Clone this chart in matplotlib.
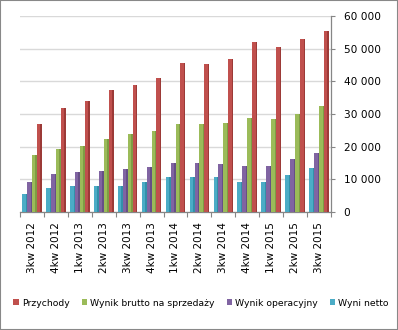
import numpy as np
import matplotlib
matplotlib.use('Agg')
import matplotlib.pyplot as plt
from matplotlib.ticker import FuncFormatter, FixedLocator

kwartaly = ['3kw 2012', '4kw 2012', '1kw 2013', '2kw 2013', '3kw 2013', '4kw 2013',
            '1kw 2014', '2kw 2014', '3kw 2014', '4kw 2014', '1kw 2015', '2kw 2015', '3kw 2015']

przychody = [26800, 31800, 34000, 37200, 38800, 40900, 45600, 45400, 46800, 52100, 50500, 53100, 55400]
wynik_brutto = [17600, 19400, 20200, 22300, 23800, 24800, 27000, 26800, 27100, 28700, 28600, 29900, 32600]
wynik_oper = [9300, 11600, 12300, 12400, 13200, 13700, 15000, 15000, 14600, 14200, 14200, 16100, 18100]
wynik_netto = [5400, 7400, 7900, 8000, 8100, 9300, 10700, 10800, 10600, 9300, 9300, 11400, 13600]

# kolejnosc slupkow w grupie (od lewej) jest odwrotna do legendy
serie = [
    ('Wyni netto', wynik_netto, '#4BACC6', '#3290AA'),
    ('Wynik operacyjny', wynik_oper, '#8064A2', '#664F86'),
    ('Wynik brutto na sprzedaży', wynik_brutto, '#9BBB59', '#7E9C44'),
    ('Przychody', przychody, '#C0504D', '#9C3A37'),
]

fig = plt.figure(figsize=(3.98, 3.30), dpi=100)
ax = fig.add_axes([20 / 398, 1 - 212 / 330, (331 - 20) / 398, (212 - 16) / 330])

x = np.arange(len(kwartaly))
w = 0.205
handles = {}
for i, (nazwa, vals, kolor, ciemny) in enumerate(serie):
    pos = x - 1.5 * w + i * w
    b = ax.bar(pos, vals, width=w, color=kolor, linewidth=0, zorder=3)
    ax.bar(pos + w * 0.36, vals, width=w * 0.28, color=ciemny, linewidth=0, zorder=3)
    handles[nazwa] = b

ax.set_xlim(-0.5, len(kwartaly) - 0.5)
ax.set_ylim(0, 60000)
ax.set_yticks(np.arange(0, 60001, 10000))
ax.yaxis.set_major_formatter(FuncFormatter(lambda v, p: f'{int(v):,}'.replace(',', ' ')))
ax.yaxis.tick_right()
ax.grid(axis='y', color='#D9D9D9', linewidth=1.0, zorder=0)

ax.set_xticks(x)
ax.set_xticklabels(kwartaly, rotation=90, fontsize=7.5)
ax.xaxis.set_minor_locator(FixedLocator(np.arange(-0.5, len(kwartaly), 1.0)))
ax.tick_params(axis='x', which='major', length=0, pad=7)
ax.tick_params(axis='x', which='minor', length=3.5, color='#868686', width=0.8)
ax.tick_params(axis='y', length=3, color='#868686', width=0.8, pad=6, labelsize=7.6)

for s in ['top', 'left']:
    ax.spines[s].set_visible(False)
for s in ['bottom', 'right']:
    ax.spines[s].set_color('#868686')
    ax.spines[s].set_linewidth(0.9)

kolejnosc = ['Przychody', 'Wynik brutto na sprzedaży', 'Wynik operacyjny', 'Wyni netto']
fig.legend([handles[k] for k in kolejnosc], kolejnosc, loc='center', ncol=4,
           bbox_to_anchor=(0.505, 1 - 303 / 330), frameon=False, fontsize=6.7,
           handlelength=0.6, handleheight=0.6, handletextpad=0.3, columnspacing=1.3)

fig.patches.append(plt.Rectangle((0, 0), 1, 1, transform=fig.transFigure, fill=False,
                                 edgecolor='#888888', linewidth=1.5))

fig.savefig('out.png', dpi=100)
